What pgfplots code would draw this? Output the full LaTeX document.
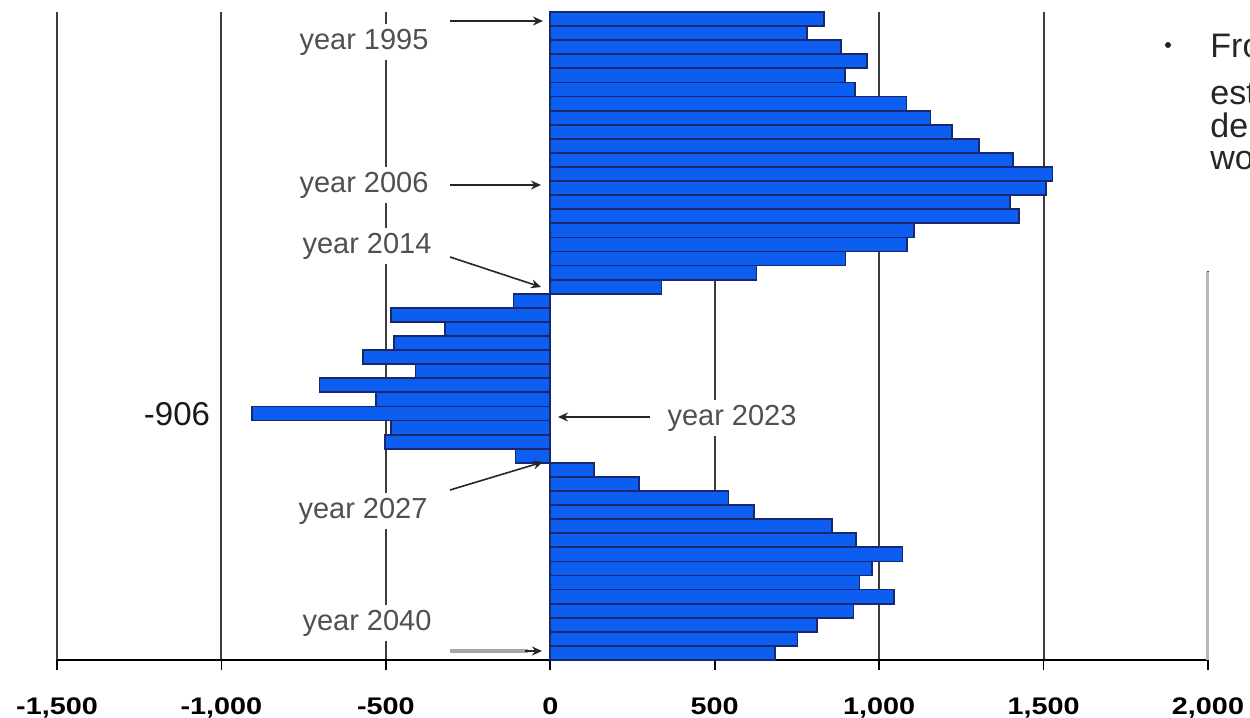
\documentclass[border=0pt]{standalone}
\usepackage{pgfplots}
\pgfplotsset{compat=1.18}
\usepackage{pgfplotstable}
\usepackage{fontspec}
\setmainfont{Liberation Sans}
\usetikzlibrary{arrows.meta}
\definecolor{barblue}{RGB}{12,94,240}
\definecolor{baredge}{RGB}{25,40,110}
\definecolor{gridc}{RGB}{60,60,60}
\definecolor{labc}{RGB}{80,80,80}
\newcommand\tl[1]{\scalebox{1.2}[1]{#1}}

\pgfplotstableread{
year v
1995 833
1996 780
1997 883
1998 964
1999 896
2000 927
2001 1083
2002 1156
2003 1222
2004 1304
2005 1406
2006 1527
2007 1508
2008 1399
2009 1425
2010 1106
2011 1085
2012 898
2013 627
2014 338
2015 -112
2016 -484
2017 -319
2018 -476
2019 -570
2020 -410
2021 -702
2022 -529
2023 -906
2024 -484
2025 -502
2026 -106
2027 134
2028 269
2029 542
2030 620
2031 857
2032 930
2033 1071
2034 978
2035 940
2036 1044
2037 922
2038 811
2039 752
2040 684
}\datatable

\begin{document}
\begin{tikzpicture}
\useasboundingbox (0,0) rectangle (625pt,-359pt);
\begin{axis}[
  at={(28.5pt,-330pt)}, anchor=south west,
  scale only axis, width=575.5pt, height=324pt,
  xmin=-1500, xmax=2000, ymin=1994.5, ymax=2040.5, y dir=reverse,
  axis x line=bottom, axis y line=none,
  axis line style={-, black, line width=1pt},
  xtick={-1500,-1000,-500,0,500,1000,1500,2000},
  xticklabels={{\tl{-1,500}},{\tl{-1,000}},{\tl{-500}},{\tl{0}},{\tl{500}},{\tl{1,000}},{\tl{1,500}},{\tl{2,000}}},
  xticklabel style={font=\bfseries\fontsize{12}{14}\selectfont, anchor=base, yshift=-22pt},
  ytick=\empty,
  xmajorgrids, grid style={gridc, line width=1pt},
  tick align=outside, major tick length=5pt, tick style={black, line width=0.8pt},
  clip=false,
]
\addplot[xbar, bar width=1, fill=barblue, draw=baredge, line width=0.9pt] table[x=v, y=year] {\datatable};
\fill[white] (axis cs:1850,1994.4) rectangle (axis cs:2150,2012.9);
\draw[gray!55, line width=1.5pt] (axis cs:2000,2012.96) -- (axis cs:2000,2040.5);
\end{axis}
\begin{scope}[x=0.5pt,y=-0.5pt]
\tikzset{yl/.style={text=labc, fill=white, inner sep=2.5pt, anchor=base, font=\fontsize{14.5}{17}\selectfont},
  ar/.style={-{Stealth[length=5pt,width=4.5pt]}, line width=0.8pt, black!85}}
\node[yl] at (364,49) {year 1995};
\draw[ar] (450,21) -- (543,21);
\node[yl] at (364,192) {year 2006};
\draw[ar] (450,185) -- (541,185);
\node[yl] at (367,253) {year 2014};
\draw[ar] (450,257) -- (541,287);
\node[anchor=base, font=\fontsize{16.5}{19}\selectfont, text=black!90, inner sep=1pt] at (177,425) {-906};
\node[yl] at (732,425) {year 2023};
\draw[ar] (650,417) -- (558,417);
\node[yl] at (363,518) {year 2027};
\draw[ar] (450,490) -- (543,462);
\node[yl] at (367,630) {year 2040};
\draw[gray!70, line width=1.6pt] (450,651) -- (528,651);
\draw[ar] (525,651) -- (542,651);
\tikzset{rt/.style={anchor=base west, inner sep=0pt, font=\fontsize{17}{19}\selectfont, text=black!85}}
\node[rt] at (1210,57) {From};
\node[rt] at (1210,104) {estimates};
\node[rt] at (1210,137) {demand};
\node[rt] at (1210,169) {would};
\fill[black!85] (1168,45) circle (3);
\end{scope}
\end{tikzpicture}
\end{document}
